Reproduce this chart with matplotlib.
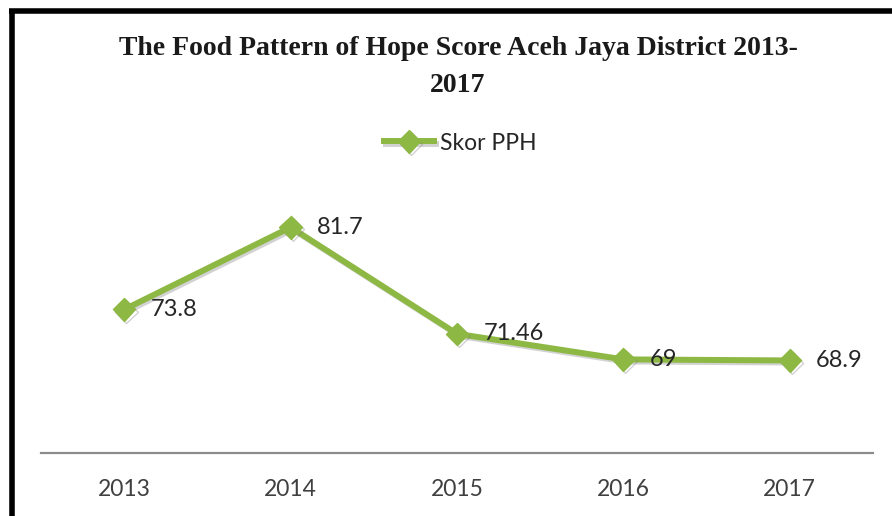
import matplotlib
matplotlib.use("Agg")
import matplotlib.pyplot as plt
import matplotlib.patheffects as pe
from matplotlib.lines import Line2D

years = ["2013", "2014", "2015", "2016", "2017"]
scores = [73.8, 81.7, 71.46, 69, 68.9]
labels = ["73.8", "81.7", "71.46", "69", "68.9"]
series_name = "Skor PPH"
title = "The Food Pattern of Hope Score Aceh Jaya District 2013-\n2017"

W, H = 892, 516
fig = plt.figure(figsize=(W / 100, H / 100), dpi=100)
fig.patch.set_facecolor("white")

ax = fig.add_axes([41 / W, 63 / H, 832 / W, 260 / H])
x = list(range(len(years)))
green = "#8DB843"
shadow = [pe.SimpleLineShadow(offset=(1.5, -1.5), shadow_color="#808080", alpha=0.35), pe.Normal()]
line, = ax.plot(x, scores, color=green, lw=4.3, marker="D", markersize=11.5,
                markerfacecolor=green, markeredgecolor=green, label=series_name,
                path_effects=shadow, solid_joinstyle="round", zorder=3)

for xi, yi, lab in zip(x, scores, labels):
    ax.annotate(lab, (xi, yi), xytext=(19, 0), textcoords="offset points",
                ha="left", va="center", fontsize=17, family="Lato", color="#262626", zorder=4)

ax.set_xlim(-0.5, len(years) - 0.5)
ax.set_ylim(60, 85)
ax.set_xticks(x)
ax.set_xticklabels(years, fontsize=16.5, family="Lato", color="#404040")
ax.tick_params(axis="x", length=0, pad=19)
ax.set_yticks([])
for s in ["left", "right", "top"]:
    ax.spines[s].set_visible(False)
ax.spines["bottom"].set_color("#8C8C8C")
ax.spines["bottom"].set_linewidth(1.6)
ax.set_facecolor("none")

fig.text(458 / W, 1 - 67 / H, title, ha="center", va="center", fontsize=20,
         family="Liberation Serif", fontweight="bold", color="#1a1a1a", linespacing=1.6)

leg = fig.legend(handles=[line], loc="center", bbox_to_anchor=(460 / W, 1 - 143 / H),
                 frameon=False, handlelength=2.2, handletextpad=0.25,
                 prop={"family": "Lato", "size": 16.5}, labelcolor="#262626")

# frame border (top and left thick black lines)
fig.add_artist(Line2D([9 / W, 1], [1 - 10.5 / H, 1 - 10.5 / H], transform=fig.transFigure,
                      color="black", lw=4, solid_capstyle="butt"))
fig.add_artist(Line2D([11.5 / W, 11.5 / W], [0, 1 - 8.5 / H], transform=fig.transFigure,
                      color="black", lw=4, solid_capstyle="butt"))

fig.savefig("out.png", dpi=100)
